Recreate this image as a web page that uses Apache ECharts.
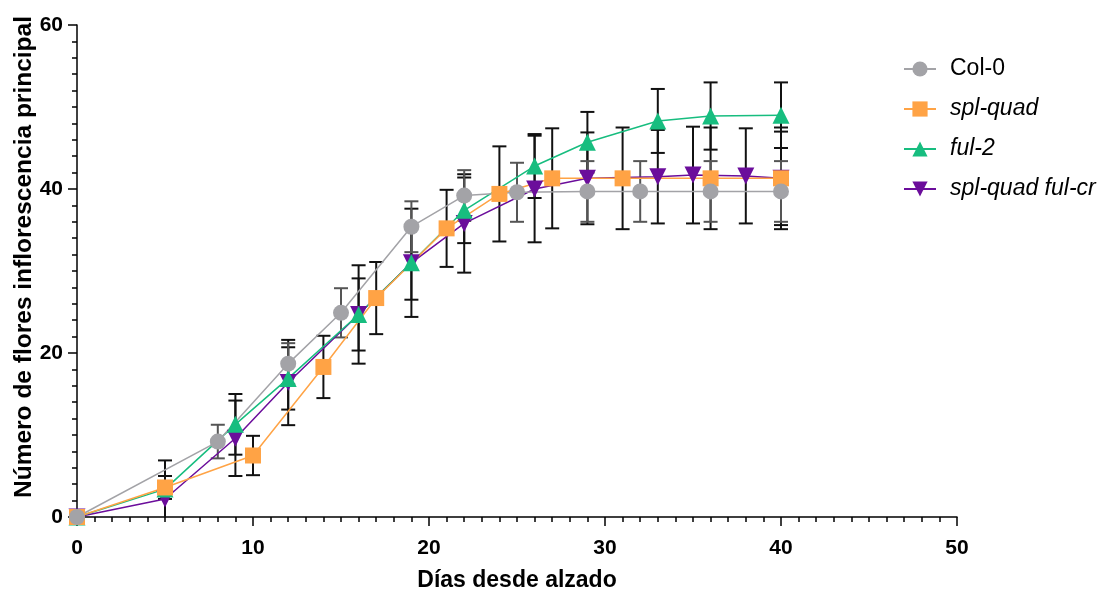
<!DOCTYPE html>
<html>
<head>
<meta charset="utf-8">
<script src="https://cdn.jsdelivr.net/npm/echarts@6/dist/echarts.min.js"></script>
<style>
  html, body { margin: 0; padding: 0; background: #fff; }
  #chart { width: 1105px; height: 590px; }
</style>
</head>
<body>
<div id="chart"></div>
<script>
// Col-0
var colX  = [0, 8, 12, 15, 19, 22, 25, 29, 32, 36, 40];
var colY  = [0, 9.2, 18.7, 24.9, 35.4, 39.2, 39.6, 39.7, 39.7, 39.7, 39.7];
var colSd = [0, 2.05, 2.5, 3.0, 3.1, 3.1, 3.6, 3.7, 3.7, 3.7, 3.7];
// spl-quad
var quadX  = [0, 5, 10, 14, 17, 21, 24, 27, 31, 36, 40];
var quadY  = [0, 3.6, 7.5, 18.3, 26.7, 35.2, 39.4, 41.3, 41.3, 41.3, 41.3];
var quadSd = [0, 1.4, 2.4, 3.8, 4.4, 4.7, 5.8, 6.1, 6.2, 6.2, 6.2];
// ful-2
var fulX  = [0, 5, 9, 12, 16, 19, 22, 26, 29, 33, 36, 40];
var fulY  = [0, 3.4, 11.3, 16.9, 24.7, 31.0, 37.4, 42.8, 45.7, 48.3, 48.9, 49.0];
var fulSd = [0, 3.5, 3.7, 3.8, 4.4, 6.6, 4.0, 3.9, 3.7, 3.9, 4.1, 4.0];
// spl-quad ful-cr
var crX  = [0, 5, 9, 12, 16, 19, 22, 26, 29, 33, 35, 38, 40];
var crY  = [0, 2.2, 9.6, 16.4, 24.7, 31.0, 35.8, 40.0, 41.3, 41.5, 41.7, 41.6, 41.3];
var crSd = [0, 2.8, 4.6, 5.2, 6.0, 4.5, 6.0, 6.5, 5.6, 5.7, 5.9, 5.8, 5.7];

var FONT = 'Liberation Sans, Arial, sans-serif';

function pts(xs, ys) {
  return xs.map(function (x, i) { return [x, ys[i]]; });
}
function errs(xs, ys, sds) {
  var out = [];
  xs.forEach(function (x, i) {
    if (sds[i] > 0) out.push([x, ys[i] - sds[i], ys[i] + sds[i]]);
  });
  return out;
}

// barras de error: linea vertical + dos topes
function errSeries(name, data, color) {
  return {
    name: name + ' (DE)',
    type: 'custom',
    data: data,
    silent: true,
    renderItem: function (params, api) {
      var x = api.value(0);
      var lowV = api.value(1);
      var hi = api.coord([x, api.value(2)]);
      var lo = api.coord([x, Math.max(0, lowV)]);
      var w = 7;
      var st = { stroke: color, lineWidth: 2 };
      var kids = [
        { type: 'line', shape: { x1: hi[0], y1: hi[1], x2: lo[0], y2: lo[1] }, style: st },
        { type: 'line', shape: { x1: hi[0] - w, y1: hi[1], x2: hi[0] + w, y2: hi[1] }, style: st }
      ];
      if (lowV > 0) {
        kids.push({ type: 'line', shape: { x1: lo[0] - w, y1: lo[1], x2: lo[0] + w, y2: lo[1] }, style: st });
      }
      return { type: 'group', children: kids };
    }
  };
}

function lineSeries(name, data, color, symbol, size, rot) {
  return {
    name: name,
    type: 'line',
    data: data,
    symbol: symbol,
    symbolSize: size,
    symbolRotate: rot || 0,
    showAllSymbol: true,
    itemStyle: { color: color },
    lineStyle: { color: color, width: 1.5 },
    emphasis: { disabled: true }
  };
}

var chart = echarts.init(document.getElementById('chart'));

chart.setOption({
  animation: false,
  backgroundColor: '#fff',
  grid: { left: 77, right: 148, top: 25, bottom: 73, containLabel: false, outerBoundsMode: 'none' },
  legend: {
    orient: 'vertical',
    left: 898,
    top: 51,
    itemWidth: 32,
    itemHeight: 19,
    itemGap: 14,
    textStyle: { fontFamily: FONT, fontSize: 23, color: '#000', lineHeight: 26, padding: [0, 0, 0, 9] },
    data: [
      { name: 'Col-0' },
      { name: 'spl-quad', textStyle: { fontStyle: 'italic' } },
      { name: 'ful-2', textStyle: { fontStyle: 'italic' } },
      { name: 'spl-quad ful-cr', textStyle: { fontStyle: 'italic' } }
    ]
  },
  xAxis: {
    type: 'value',
    min: 0, max: 50, interval: 10,
    name: 'Días desde alzado',
    nameLocation: 'middle',
    nameGap: 52,
    nameMoveOverlap: false,
    nameTextStyle: { fontFamily: FONT, fontSize: 23, fontWeight: 'bold', color: '#000' },
    axisLine: { show: true, onZero: false, lineStyle: { color: '#000', width: 1.5 } },
    axisTick: { show: true, length: 9, lineStyle: { color: '#000', width: 1.5 } },
    minorTick: { show: true, splitNumber: 10, length: 5, lineStyle: { color: '#000', width: 1.5 } },
    axisLabel: { fontFamily: FONT, fontSize: 21, fontWeight: 'bold', color: '#000', margin: 21 },
    splitLine: { show: false }
  },
  yAxis: {
    type: 'value',
    min: 0, max: 60, interval: 20,
    name: 'Número de flores inflorescencia principal',
    nameLocation: 'middle',
    nameGap: 40,
    nameMoveOverlap: false,
    nameTextStyle: { fontFamily: FONT, fontSize: 24.5, fontWeight: 'bold', color: '#000', padding: [0, 0, 0, 28] },
    axisLine: { show: true, onZero: false, lineStyle: { color: '#000', width: 1.5 } },
    axisTick: { show: true, length: 9, lineStyle: { color: '#000', width: 1.5 } },
    minorTick: { show: true, splitNumber: 10, length: 5, lineStyle: { color: '#000', width: 1.5 } },
    axisLabel: { fontFamily: FONT, fontSize: 21, fontWeight: 'bold', color: '#000', margin: 14 },
    splitLine: { show: false }
  },
  series: [
    errSeries('spl-quad ful-cr', errs(crX, crY, crSd), '#111'),
    lineSeries('spl-quad ful-cr', pts(crX, crY), '#6b0d9b', 'triangle', 17, 180),
    errSeries('ful-2', errs(fulX, fulY, fulSd), '#111'),
    lineSeries('ful-2', pts(fulX, fulY), '#17bd7f', 'triangle', 17),
    errSeries('spl-quad', errs(quadX, quadY, quadSd), '#111'),
    lineSeries('spl-quad', pts(quadX, quadY), '#ffa345', 'rect', 16),
    errSeries('Col-0', errs(colX, colY, colSd), '#555'),
    lineSeries('Col-0', pts(colX, colY), '#a3a3a7', 'circle', 16)
  ]
});
</script>
</body>
</html>
